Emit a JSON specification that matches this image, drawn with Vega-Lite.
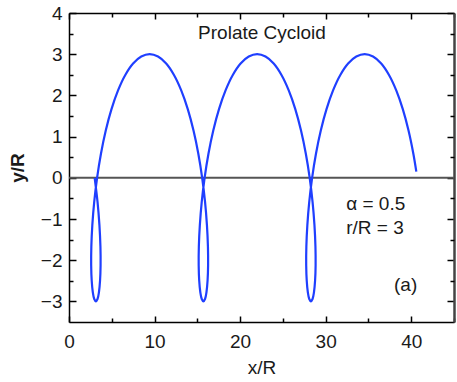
{
  "$schema": "https://vega.github.io/schema/vega-lite/v6.json",
  "width": 385,
  "height": 309,
  "autosize": {"type": "none"},
  "padding": {"left": 69, "top": 13, "right": 3, "bottom": 60},
  "background": "white",
  "config": {
    "view": {"stroke": null},
    "font": "Liberation Sans",
    "axis": {"grid": false, "tickColor": "black", "domainColor": "black", "labelColor": "#1a1a1a", "titleColor": "#1a1a1a", "labelFont": "Liberation Sans", "titleFont": "Liberation Sans", "labelFlush": false, "labelOverlap": false}
  },
  "data": {"values": [
    {"i":0,"x":3.000,"y":0},{"i":1,"x":3.335,"y":-0.585},{"i":2,"x":3.557,"y":-1.148},{"i":3,"x":3.673,"y":-1.667},
    {"i":4,"x":3.692,"y":-2.121},{"i":5,"x":3.630,"y":-2.494},{"i":6,"x":3.504,"y":-2.772},{"i":7,"x":3.334,"y":-2.942},
    {"i":8,"x":3.142,"y":-3},{"i":9,"x":2.949,"y":-2.942},{"i":10,"x":2.779,"y":-2.772},{"i":11,"x":2.653,"y":-2.494},
    {"i":12,"x":2.591,"y":-2.121},{"i":13,"x":2.611,"y":-1.667},{"i":14,"x":2.726,"y":-1.148},{"i":15,"x":2.948,"y":-0.585},
    {"i":16,"x":3.283,"y":0},{"i":17,"x":3.734,"y":0.585},{"i":18,"x":4.297,"y":1.148},{"i":19,"x":4.967,"y":1.667},
    {"i":20,"x":5.733,"y":2.121},{"i":21,"x":6.580,"y":2.494},{"i":22,"x":7.491,"y":2.772},{"i":23,"x":8.447,"y":2.942},
    {"i":24,"x":9.425,"y":3},{"i":25,"x":10.403,"y":2.942},{"i":26,"x":11.358,"y":2.772},{"i":27,"x":12.270,"y":2.494},
    {"i":28,"x":13.117,"y":2.121},{"i":29,"x":13.883,"y":1.667},{"i":30,"x":14.553,"y":1.148},{"i":31,"x":15.116,"y":0.585},
    {"i":32,"x":15.566,"y":0},{"i":33,"x":15.902,"y":-0.585},{"i":34,"x":16.123,"y":-1.148},{"i":35,"x":16.239,"y":-1.667},
    {"i":36,"x":16.259,"y":-2.121},{"i":37,"x":16.197,"y":-2.494},{"i":38,"x":16.071,"y":-2.772},{"i":39,"x":15.901,"y":-2.942},
    {"i":40,"x":15.708,"y":-3},{"i":41,"x":15.515,"y":-2.942},{"i":42,"x":15.345,"y":-2.772},{"i":43,"x":15.219,"y":-2.494},
    {"i":44,"x":15.158,"y":-2.121},{"i":45,"x":15.177,"y":-1.667},{"i":46,"x":15.293,"y":-1.148},{"i":47,"x":15.515,"y":-0.585},
    {"i":48,"x":15.850,"y":0},{"i":49,"x":16.300,"y":0.585},{"i":50,"x":16.863,"y":1.148},{"i":51,"x":17.533,"y":1.667},
    {"i":52,"x":18.299,"y":2.121},{"i":53,"x":19.146,"y":2.494},{"i":54,"x":20.058,"y":2.772},{"i":55,"x":21.013,"y":2.942},
    {"i":56,"x":21.991,"y":3},{"i":57,"x":22.969,"y":2.942},{"i":58,"x":23.925,"y":2.772},{"i":59,"x":24.836,"y":2.494},
    {"i":60,"x":25.683,"y":2.121},{"i":61,"x":26.449,"y":1.667},{"i":62,"x":27.119,"y":1.148},{"i":63,"x":27.682,"y":0.585},
    {"i":64,"x":28.133,"y":0},{"i":65,"x":28.468,"y":-0.585},{"i":66,"x":28.690,"y":-1.148},{"i":67,"x":28.805,"y":-1.667},
    {"i":68,"x":28.825,"y":-2.121},{"i":69,"x":28.763,"y":-2.494},{"i":70,"x":28.637,"y":-2.772},{"i":71,"x":28.467,"y":-2.942},
    {"i":72,"x":28.274,"y":-3},{"i":73,"x":28.082,"y":-2.942},{"i":74,"x":27.912,"y":-2.772},{"i":75,"x":27.786,"y":-2.494},
    {"i":76,"x":27.724,"y":-2.121},{"i":77,"x":27.743,"y":-1.667},{"i":78,"x":27.859,"y":-1.148},{"i":79,"x":28.081,"y":-0.585},
    {"i":80,"x":28.416,"y":0},{"i":81,"x":28.866,"y":0.585},{"i":82,"x":29.430,"y":1.148},{"i":83,"x":30.100,"y":1.667},
    {"i":84,"x":30.865,"y":2.121},{"i":85,"x":31.713,"y":2.494},{"i":86,"x":32.624,"y":2.772},{"i":87,"x":33.580,"y":2.942},
    {"i":88,"x":34.558,"y":3},{"i":89,"x":35.536,"y":2.942},{"i":90,"x":36.491,"y":2.772},{"i":91,"x":37.402,"y":2.494},
    {"i":92,"x":38.250,"y":2.121},{"i":93,"x":39.015,"y":1.667},{"i":94,"x":39.685,"y":1.148},{"i":95,"x":40.249,"y":0.585},
    {"i":96,"x":40.596,"y":0.15}
  ]},
  "resolve": {"axis": {"x": "independent", "y": "independent"}},
  "layer": [
    {
      "mark": {"type": "rule", "color": "#555555", "strokeWidth": 2},
      "data": {"values": [{}]},
      "encoding": {"y": {"datum": 0, "type": "quantitative", "scale": {"domain": [-3.5, 4], "nice": false, "zero": false}, "axis": null}}
    },
    {
      "mark": {"type": "line", "color": "#1f3fff", "strokeWidth": 2.2, "interpolate": "catmull-rom"},
      "encoding": {
        "order": {"field": "i", "type": "quantitative"},
        "x": {"field": "x", "type": "quantitative", "scale": {"domain": [0, 45], "nice": false, "zero": false},
              "axis": {"orient": "bottom", "values": [0, 10, 20, 30, 40], "tickSize": -6, "tickWidth": 1.5, "domainWidth": 1.5,
                       "labelFontSize": 19, "labelPadding": 16, "title": "x/R", "titleFontSize": 19, "titleFontWeight": "normal",
                       "titleX": 192.5, "titleY": 45, "titleBaseline": "middle", "titleAlign": "center"}},
        "y": {"field": "y", "type": "quantitative", "scale": {"domain": [-3.5, 4], "nice": false, "zero": false},
              "axis": {"orient": "left", "values": [-3, -2, -1, 0, 1, 2, 3, 4], "tickSize": -7, "tickWidth": 1.5, "domainWidth": 1.5,
                       "labelFontSize": 19, "labelPadding": 14, "title": "y/R", "titleFontSize": 19, "titleFontWeight": "bold",
                       "titleX": -52, "titleY": 154.5, "titleBaseline": "middle", "titleAlign": "center", "titleAngle": 270}}
      }
    },
    {
      "mark": {"type": "point", "opacity": 0},
      "encoding": {
        "x": {"field": "x", "type": "quantitative", "axis": {"orient": "top", "values": [0, 10, 20, 30, 40], "tickSize": -6, "tickWidth": 1.5, "domainWidth": 1.5, "labels": false, "title": null}},
        "y": {"field": "y", "type": "quantitative", "axis": {"orient": "right", "values": [-3, -2, -1, 0, 1, 2, 3, 4], "tickSize": -7, "tickWidth": 1.5, "domainWidth": 2.5, "domainColor": "#444444", "labels": false, "title": null}}
      }
    },
    {
      "mark": {"type": "point", "opacity": 0},
      "encoding": {
        "x": {"field": "x", "type": "quantitative", "axis": {"orient": "bottom", "values": [5, 15, 25, 35, 45], "tickSize": -4, "tickWidth": 1.5, "domain": false, "labels": false, "title": null}},
        "y": {"field": "y", "type": "quantitative", "axis": {"orient": "left", "values": [-2.5, -1.5, -0.5, 0.5, 1.5, 2.5, 3.5], "tickSize": -4, "tickWidth": 1.5, "domain": false, "labels": false, "title": null}}
      }
    },
    {
      "mark": {"type": "point", "opacity": 0},
      "encoding": {
        "x": {"field": "x", "type": "quantitative", "axis": {"orient": "top", "values": [5, 15, 25, 35, 45], "tickSize": -4, "tickWidth": 1.5, "domain": false, "labels": false, "title": null}},
        "y": {"field": "y", "type": "quantitative", "axis": {"orient": "right", "values": [-2.5, -1.5, -0.5, 0.5, 1.5, 2.5, 3.5], "tickSize": -4, "tickWidth": 1.5, "domain": false, "labels": false, "title": null}}
      }
    },
    {
      "data": {"values": [{}]},
      "mark": {"type": "text", "fontSize": 19, "color": "#1a1a1a", "align": "center", "baseline": "middle"},
      "encoding": {"x": {"datum": 22.56, "type": "quantitative", "axis": null}, "y": {"datum": 3.51, "type": "quantitative", "axis": null}, "text": {"value": "Prolate Cycloid"}}
    },
    {
      "data": {"values": [{}]},
      "mark": {"type": "text", "fontSize": 19, "color": "#1a1a1a", "align": "left", "baseline": "middle"},
      "encoding": {"x": {"datum": 32.4, "type": "quantitative", "axis": null}, "y": {"datum": -0.64, "type": "quantitative", "axis": null}, "text": {"value": "α = 0.5"}}
    },
    {
      "data": {"values": [{}]},
      "mark": {"type": "text", "fontSize": 19, "color": "#1a1a1a", "align": "left", "baseline": "middle"},
      "encoding": {"x": {"datum": 32.4, "type": "quantitative", "axis": null}, "y": {"datum": -1.22, "type": "quantitative", "axis": null}, "text": {"value": "r/R = 3"}}
    },
    {
      "data": {"values": [{}]},
      "mark": {"type": "text", "fontSize": 19, "color": "#1a1a1a", "align": "left", "baseline": "middle"},
      "encoding": {"x": {"datum": 37.99, "type": "quantitative", "axis": null}, "y": {"datum": -2.6, "type": "quantitative", "axis": null}, "text": {"value": "(a)"}}
    }
  ]
}
